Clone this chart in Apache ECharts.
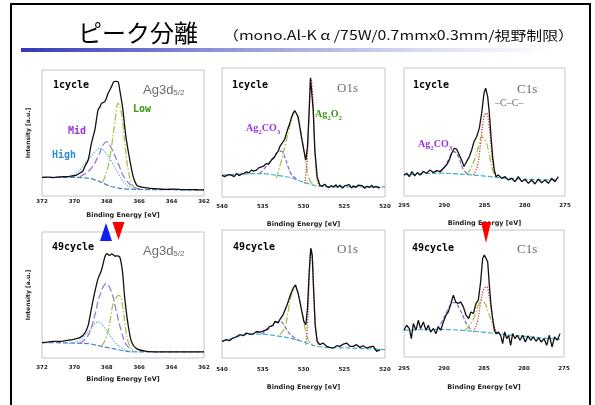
<!DOCTYPE html>
<html>
<head>
<meta charset="utf-8">
<script src="https://cdn.jsdelivr.net/npm/echarts@6/dist/echarts.min.js"></script>
<style>
  html, body { margin: 0; padding: 0; background: #fff; }
  #chart { width: 595px; height: 405px; }
</style>
</head>
<body>
<div id="chart"></div>
<script>
// ---------- Ag3d5/2, 1 cycle : [binding energy eV, intensity a.u.] ----------
const agRaw1 = [[372.0,14.8],[371.6,15.0],[371.3,14.6],[370.9,15.2],[370.5,15.3],[370.29,15.6],[369.9,16.4],[369.67,18.0],[369.46,20.2],[369.36,23.3],[369.15,28.6],[368.95,41.8],[368.74,52.4],[368.54,68.3],[368.43,70.5],[368.33,73.5],[368.12,74.9],[367.92,81.5],[367.71,86.8],[367.57,90.7],[367.45,91.0],[367.30,90.7],[367.20,84.1],[367.03,70.9],[366.82,47.1],[366.58,28.6],[366.37,15.3],[366.16,8.7],[365.96,7.4],[365.55,6.5],[365.34,6.1],[364.8,5.6],[364.31,5.3],[363.8,5.4],[363.28,5.0],[362.7,5.1],[362.25,4.8],[362.0,4.8]];
const agBg1   = [[372.0,14.8],[370.29,14.8],[369.05,14.0],[368.43,11.4],[367.81,7.9],[367.20,6.1],[366.37,5.3],[364.31,5.0],[362.0,4.8]];
const agHigh1 = [[370.49,14.8],[369.88,18.0],[369.26,27.2],[368.74,35.2],[368.43,37.8],[368.12,35.2],[367.71,27.2],[367.30,18.0],[366.89,10.1],[366.37,6.1],[365.96,5.3]];
const agMid1  = [[369.67,15.3],[369.05,20.6],[368.54,31.2],[368.23,40.5],[368.02,43.1],[367.71,37.8],[367.30,25.9],[366.89,14.0],[366.37,7.4],[365.96,5.6]];
const agLow1  = [[368.23,11.4],[367.92,23.3],[367.71,39.2],[367.51,57.7],[367.30,73.5],[367.09,65.6],[366.89,41.8],[366.68,20.6],[366.47,10.1],[366.27,6.1]];

// ---------- Ag3d5/2, 49 cycles ----------
const agRaw49 = [[372.0,12.2],[371.7,12.6],[371.32,13.2],[370.9,13.1],[370.49,14.0],[370.2,14.4],[369.88,15.3],[369.67,16.2],[369.46,18.0],[369.3,21.0],[369.15,25.9],[368.95,39.2],[368.74,52.4],[368.54,63.0],[368.33,69.6],[368.12,80.2],[367.98,82.8],[367.9,81.8],[367.81,81.5],[367.7,82.6],[367.61,82.0],[367.5,80.9],[367.40,81.0],[367.20,80.2],[367.03,68.3],[366.89,47.1],[366.68,25.9],[366.47,12.7],[366.16,7.4],[365.55,5.3],[364.31,4.8],[363.2,4.9],[362.0,4.8]];
const agBg49   = [[372.0,12.2],[369.15,11.4],[368.43,9.5],[367.61,7.4],[366.78,5.3],[365.96,4.8],[362.0,4.8]];
const agHigh49 = [[370.49,11.4],[369.67,14.0],[369.05,22.0],[368.54,28.6],[368.02,22.0],[367.51,12.7],[366.99,7.4],[366.37,4.8]];
const agMid49  = [[369.67,11.4],[369.15,18.0],[368.74,33.9],[368.43,49.7],[368.02,59.0],[367.71,52.4],[367.40,36.5],[367.09,20.6],[366.78,10.1],[366.37,6.1]];
const agLow49  = [[368.33,9.5],[368.06,15.3],[367.81,28.6],[367.61,43.1],[367.40,48.4],[367.24,49.7],[367.03,41.8],[366.87,25.9],[366.68,12.7],[366.47,7.4]];

// ---------- O1s, 1 cycle ----------
const oRaw1 = [[540.0,16.9],[539.7,15.8],[539.47,15.6],[539.2,17.4],[538.85,16.9],[538.5,15.8],[538.24,18.2],[537.9,16.6],[537.62,17.7],[537.3,18.4],[537.01,19.5],[536.7,18.7],[536.39,20.8],[536.1,20.0],[535.78,20.8],[535.5,22.6],[535.16,23.4],[534.85,24.2],[534.55,26.0],[534.3,25.2],[533.93,28.6],[533.6,30.4],[533.32,33.8],[533.1,35.5],[532.91,39.0],[532.7,38.2],[532.50,42.9],[532.3,44.9],[532.09,49.4],[531.89,53.5],[531.68,57.1],[531.48,61.6],[531.27,65.0],[531.07,67.0],[530.98,67.3],[530.66,62.1],[530.33,49.4],[529.96,36.4],[529.71,28.6],[529.51,39.0],[529.30,67.5],[529.14,92.2],[528.98,91.0],[528.81,67.5],[528.61,36.4],[528.32,15.6],[527.99,9.1],[527.7,8.3],[527.4,9.9],[527.17,8.3],[526.9,7.3],[526.6,8.8],[526.35,7.8],[526.0,9.4],[525.8,7.5],[525.53,9.1],[525.2,7.0],[524.95,8.6],[524.71,7.8],[524.4,9.6],[524.1,7.0],[523.89,8.6],[523.6,7.5],[523.3,9.1],[523.07,7.8],[522.8,8.8],[522.5,6.8],[522.25,8.3],[521.9,7.5],[521.6,9.1],[521.43,7.3],[521.1,8.3],[520.8,7.0],[520.61,7.8]];
const oBg1    = [[540.0,16.9],[538.0,17.7],[535.37,18.2],[533.32,16.9],[531.68,15.1],[530.04,11.7],[528.40,8.6],[526.35,7.8],[520.0,7.8]];
const oCarb1  = [[535.37,18.2],[534.55,24.0],[533.73,30.5],[533.1,35.0],[532.7,35.5],[532.3,31.0],[531.89,23.5],[531.48,17.5],[530.86,14.0]];
const oMain1  = [[533.32,14.5],[532.7,28.6],[532.09,44.2],[531.60,57.1],[531.07,66.2],[530.53,57.1],[530.04,39.0],[529.63,23.4],[529.22,13.0],[528.61,8.6]];
const oPerox1 = [[529.84,10.4],[529.55,28.6],[529.30,67.5],[529.10,92.2],[528.89,80.5],[528.69,49.4],[528.48,23.4],[528.20,10.4],[527.79,8.3]];

// ---------- O1s, 49 cycles ----------
const oRaw49 = [[540.0,13.0],[539.47,14.3],[539.1,13.5],[538.65,15.6],[538.3,16.4],[537.83,18.2],[537.4,17.4],[537.01,19.5],[536.6,18.7],[536.19,18.7],[535.8,20.5],[535.37,20.3],[534.96,21.0],[534.55,22.1],[534.14,24.7],[533.73,25.5],[533.52,28.6],[533.1,27.5],[532.91,29.9],[532.50,33.8],[532.01,41.6],[531.60,49.4],[531.27,54.5],[530.98,57.1],[530.66,50.6],[530.33,40.3],[529.96,28.6],[529.71,26.0],[529.51,39.0],[529.30,67.5],[529.10,85.7],[528.93,80.5],[528.77,54.5],[528.57,26.0],[528.32,13.0],[527.99,10.4],[527.6,11.7],[527.17,9.1],[526.8,8.3],[526.35,7.8],[525.9,9.6],[525.53,9.1],[525.1,10.9],[524.71,11.7],[524.3,9.1],[523.89,9.1],[523.5,10.4],[523.07,8.3],[522.7,9.6],[522.25,7.8],[521.85,8.6],[521.43,9.1],[521.02,5.2],[520.61,6.5]];
const oBg49    = [[540.0,13.0],[538.65,15.6],[537.01,18.2],[535.37,18.7],[533.73,17.7],[532.09,16.1],[530.45,13.5],[528.81,9.9],[527.17,8.3],[524.3,7.8],[520.0,6.5]];
const oCarb49  = [[535.16,18.7],[534.14,23.4],[533.32,28.1],[532.83,28.6],[532.30,24.7],[531.76,19.5],[531.07,15.6],[530.45,13.5]];
const oMain49  = [[532.91,18.2],[532.30,23.4],[531.89,36.4],[531.48,49.4],[530.98,54.5],[530.53,46.8],[530.12,33.8],[529.71,20.8],[529.22,11.7],[528.61,10.4]];
const oPerox49 = [[529.71,10.4],[529.51,26.0],[529.30,59.7],[529.10,85.7],[528.89,75.3],[528.69,44.2],[528.48,20.8],[528.20,10.4]];

// ---------- C1s, 1 cycle ----------
const cRaw1 = [[295.00,16.4],[294.67,17.8],[294.34,15.1],[294.01,19.1],[293.67,15.7],[293.34,18.3],[293.01,16.4],[292.60,19.1],[292.18,17.8],[291.77,20.4],[291.36,18.3],[290.94,19.8],[290.53,19.1],[290.11,21.7],[289.70,24.3],[289.37,28.2],[289.08,33.4],[288.75,37.3],[288.46,36.6],[288.13,32.1],[287.84,28.2],[287.55,23.0],[287.22,26.9],[286.88,30.8],[286.59,36.0],[286.30,42.6],[285.97,46.5],[285.64,53.0],[285.35,64.8],[285.06,80.4],[284.86,84.3],[284.61,77.8],[284.40,64.8],[284.19,46.5],[283.99,30.8],[283.78,20.4],[283.57,15.1],[283.28,16.4],[282.87,13.8],[282.45,15.1],[282.04,12.5],[281.63,13.8],[281.21,11.2],[280.80,15.1],[280.38,11.2],[279.97,13.1],[279.55,9.9],[279.14,12.5],[278.73,9.4],[278.31,13.1],[277.90,10.4],[277.48,12.5],[277.07,9.9],[276.66,13.8],[276.24,11.2],[275.83,15.1]];
const cBg1    = [[295.0,16.4],[290.53,17.8],[286.39,16.4],[283.49,14.6],[280.18,13.1],[275.83,12.5]];
const cCarb1  = [[290.53,18.3],[289.91,23.0],[289.29,30.8],[288.79,34.7],[288.25,30.8],[287.71,21.7],[287.13,17.2]];
const cMid1   = [[287.22,16.4],[286.59,23.0],[285.97,33.4],[285.64,41.3],[285.35,46.5],[284.94,43.9],[284.52,36.0],[284.11,23.0],[283.70,15.1]];
const cCC1    = [[286.39,16.4],[285.89,23.0],[285.48,41.3],[285.06,62.1],[284.73,64.8],[284.48,57.4],[284.19,39.2],[283.90,23.0],[283.57,15.1]];

// ---------- C1s, 49 cycles ----------
const cRaw49 = [[295.00,21.1],[294.67,25.0],[294.33,22.4],[294.08,14.5],[293.83,26.3],[293.50,21.1],[293.21,28.9],[292.92,22.4],[292.58,27.6],[292.25,21.1],[291.96,25.0],[291.67,19.7],[291.33,22.4],[291.00,18.4],[290.71,23.7],[290.42,21.1],[290.08,27.6],[289.75,32.9],[289.46,35.5],[289.13,42.1],[288.83,48.7],[288.54,43.4],[288.25,42.1],[287.92,43.4],[287.58,39.5],[287.25,32.9],[286.92,30.3],[286.63,35.5],[286.33,34.2],[286.00,42.1],[285.71,44.7],[285.42,59.2],[285.17,77.6],[284.96,80.3],[284.75,78.9],[284.54,75.0],[284.33,56.6],[284.13,40.8],[283.92,30.3],[283.71,21.1],[283.50,18.4],[283.21,19.7],[282.92,17.1],[282.67,10.5],[282.42,19.7],[282.17,14.5],[281.92,17.1],[281.67,9.2],[281.42,18.4],[281.13,14.5],[280.83,17.1],[280.50,13.2],[280.17,17.1],[279.83,11.8],[279.50,16.6],[279.17,13.2],[278.83,15.8],[278.50,12.4],[278.17,15.0],[277.83,11.8],[277.50,14.5],[277.17,9.2],[276.83,17.1],[276.50,7.9],[276.17,15.8],[275.83,13.2],[275.50,18.4]];
const cBg49   = [[295.0,21.1],[290.50,21.8],[286.33,20.3],[283.42,18.4],[279.17,15.8],[275.50,13.9]];
const cCarb49 = [[290.92,22.4],[290.29,27.6],[289.67,35.5],[289.04,42.1],[288.63,42.9],[288.08,38.2],[287.58,31.6],[287.08,25.0],[286.54,21.1]];
const cMid49  = [[287.38,21.1],[286.75,25.0],[286.13,32.9],[285.71,40.8],[285.29,44.7],[284.88,42.1],[284.46,35.5],[284.04,27.6],[283.50,19.7]];
const cCC49   = [[286.33,19.7],[285.83,27.6],[285.42,43.4],[285.00,53.9],[284.67,55.3],[284.38,48.7],[284.04,35.5],[283.75,25.0],[283.42,19.1]];

// peak-position markers (eV): Ag blue (up), Ag red (down), C1s red (down)
const agMarkers = [368.05, 367.28];
const cMarker = 284.75;

// axis ranges [min, max, interval]
const agRange = [362, 372, 2];
const oRange  = [520, 540, 5];
const cRange  = [275, 295, 5];

const chart = echarts.init(document.getElementById('chart'), null, { renderer: 'canvas', devicePixelRatio: 1 });

const grids = [
  { left: 42,  top: 70,  width: 162, height: 126 },
  { left: 222, top: 68,  width: 163, height: 129 },
  { left: 404, top: 68,  width: 161, height: 128 },
  { left: 42,  top: 232, width: 162, height: 126 },
  { left: 222, top: 230, width: 163, height: 128 },
  { left: 404, top: 230, width: 160, height: 127 }
].map(g => Object.assign({ show: true, borderColor: '#c4c4c4', borderWidth: 1, backgroundColor: '#fff' }, g));

const ranges = [agRange, oRange, cRange, agRange, oRange, cRange];
const labelMargins = [3, 7, 7, 7, 9, 9];
const nameGaps = [16, 24, 24, 18, 26, 27];

const xAxes = ranges.map((r, i) => ({
  type: 'value', gridIndex: i, inverse: true,
  min: r[0], max: r[1], interval: r[2],
  name: 'Binding Energy [eV]', nameLocation: 'middle', nameGap: nameGaps[i],
  nameTextStyle: { fontSize: 6.5, fontWeight: 'bold', color: '#222', fontFamily: 'DejaVu Sans' },
  axisLine: { show: false }, axisTick: { show: false }, splitLine: { show: false },
  axisLabel: { margin: labelMargins[i], fontSize: 5.5, fontWeight: 'bold', color: '#222', fontFamily: 'DejaVu Sans' }
}));

const yAxes = ranges.map((r, i) => ({
  type: 'value', gridIndex: i, min: 0, max: 100,
  name: (i === 0 || i === 3) ? 'Intensity [a.u.]' : '',
  nameLocation: 'middle', nameGap: 11, nameRotate: 90,
  nameTextStyle: { fontSize: 6, fontWeight: 'bold', color: '#222', fontFamily: 'DejaVu Sans' },
  axisLine: { show: false }, axisTick: { show: false }, splitLine: { show: false }, axisLabel: { show: false }
}));

function curve(data, idx, color, type, width, smooth, z) {
  return {
    type: 'line', xAxisIndex: idx, yAxisIndex: idx, data: data,
    symbol: 'none', smooth: smooth, silent: true, z: z || 2,
    lineStyle: { color: color, width: width, type: type }
  };
}

const BLACK = '#111';
const AG_BG = '#4a7fc4', AG_HIGH = '#52b4dc', AG_MID = '#9b7bd2', AG_LOW = '#a9c24e';
const BG = '#3fb0d2', CARB = '#9060cc', MAIN = '#9cc043', CC = '#cc3a3a';
const DASH = [5, 2], LDASH = [7, 3], DOT = [1.2, 1.5], DASHDOT = [7, 2, 1.5, 2];

const series = [
  // Ag3d 1 cycle
  curve(agBg1, 0, AG_BG, DASH, 1.2, 0.3),
  curve(agHigh1, 0, AG_HIGH, DOT, 1.3, 0.4),
  curve(agMid1, 0, AG_MID, LDASH, 1.3, 0.4),
  curve(agLow1, 0, AG_LOW, DASHDOT, 1.3, 0.4),
  curve(agRaw1, 0, BLACK, 'solid', 1.3, 0.25, 3),
  // O1s 1 cycle
  curve(oBg1, 1, BG, DASH, 1.2, 0.3),
  curve(oCarb1, 1, CARB, [4, 2], 1.2, 0.4),
  curve(oMain1, 1, MAIN, DASHDOT, 1.2, 0.4),
  curve(oPerox1, 1, CC, DOT, 1.3, 0.4),
  curve(oRaw1, 1, BLACK, 'solid', 1.3, false, 3),
  // C1s 1 cycle
  curve(cBg1, 2, BG, DASH, 1.2, 0.3),
  curve(cCarb1, 2, CARB, [4, 2], 1.2, 0.4),
  curve(cMid1, 2, MAIN, DASHDOT, 1.2, 0.4),
  curve(cCC1, 2, CC, DOT, 1.3, 0.4),
  curve(cRaw1, 2, BLACK, 'solid', 1.3, false, 3),
  // Ag3d 49 cycles
  curve(agBg49, 3, AG_BG, DASH, 1.2, 0.3),
  curve(agHigh49, 3, AG_HIGH, DOT, 1.3, 0.4),
  curve(agMid49, 3, AG_MID, LDASH, 1.3, 0.4),
  curve(agLow49, 3, AG_LOW, DASHDOT, 1.3, 0.4),
  curve(agRaw49, 3, BLACK, 'solid', 1.3, 0.25, 3),
  // O1s 49 cycles
  curve(oBg49, 4, BG, DASH, 1.2, 0.3),
  curve(oCarb49, 4, CARB, [4, 2], 1.2, 0.4),
  curve(oMain49, 4, MAIN, DASHDOT, 1.2, 0.4),
  curve(oPerox49, 4, CC, DOT, 1.3, 0.4),
  curve(oRaw49, 4, BLACK, 'solid', 1.3, false, 3),
  // C1s 49 cycles
  curve(cBg49, 5, BG, DASH, 1.2, 0.3),
  curve(cCarb49, 5, CARB, [4, 2], 1.2, 0.4),
  curve(cMid49, 5, MAIN, DASHDOT, 1.2, 0.4),
  curve(cCC49, 5, CC, DOT, 1.3, 0.4),
  curve(cRaw49, 5, BLACK, 'solid', 1.3, false, 3)
];

chart.setOption({
  animation: false,
  grid: grids, xAxis: xAxes, yAxis: yAxes, series: series
});

// ---------- annotations ----------
const MONO = '"DejaVu Sans Mono", monospace';
function txt(x, y, text, font, fill, rich) {
  const style = { x: x, y: y, text: text, font: font, fill: fill, verticalAlign: 'middle', align: 'left' };
  if (rich) style.rich = rich;
  return { type: 'text', z: 50, style: style };
}
const subRich = (fs, color, family) => ({
  m: { fontSize: fs, fontFamily: family, fontWeight: 'bold', fill: color, verticalAlign: 'bottom' },
  s: { fontSize: fs * 0.7, fontFamily: family, fontWeight: 'bold', fill: color, verticalAlign: 'bottom', padding: [0, 0, -3, 0] }
});
const agRich = {
  m: { fontSize: 13, fontFamily: '"Liberation Sans"', fill: '#6e6e6e' },
  s: { fontSize: 8, fontFamily: '"Liberation Sans"', fill: '#6e6e6e', padding: [6, 0, 0, 0] }
};

const purpleTxt = '#9933e0', greenTxt = '#3a9a10', blueTxt = '#2d8fd6';

// measurement conditions line, stretched to span the heading rule
const condText = '（mono.Al-K α /75W/0.7mmx0.3mm/視野制限）';
const condFont = '13px "Noto Sans CJK JP"';
const mctx = document.createElement('canvas').getContext('2d');
mctx.font = condFont;
const condScale = 351 / mctx.measureText(condText).width;

const graphics = [
  // slide frame
  { type: 'line', z: 60, shape: { x1: 11, y1: 4, x2: 11, y2: 410 }, style: { stroke: '#000', lineWidth: 2 } },
  { type: 'line', z: 60, shape: { x1: 10, y1: 4, x2: 591, y2: 4 }, style: { stroke: '#000', lineWidth: 2 } },
  { type: 'line', z: 60, shape: { x1: 590, y1: 4, x2: 590, y2: 410 }, style: { stroke: '#000', lineWidth: 2 } },
  // heading
  txt(78, 33, 'ピーク分離', '24px "Noto Sans CJK JP"', '#000'),
  { type: 'text', z: 50, x: 223, y: 35, scaleX: condScale,
    style: { x: 0, y: 0, text: condText, font: condFont, fill: '#111', verticalAlign: 'middle', align: 'left' } },
  { type: 'rect', z: 40, shape: { x: 21, y: 48, width: 530, height: 4 },
    style: { fill: new echarts.graphic.LinearGradient(0, 0, 1, 0, [
      { offset: 0, color: '#3438b8' }, { offset: 0.35, color: '#8a8fd8' },
      { offset: 0.75, color: '#d8daf0' }, { offset: 1, color: '#ffffff' }]) } },

  // panel labels
  txt(53, 85, '1cycle', 'bold 10px ' + MONO, '#000'),
  txt(143, 90, '{m|Ag3d}{s|5/2}', '13px "Liberation Sans"', '#6e6e6e', agRich),
  txt(133, 109, 'Low', 'bold 10px ' + MONO, greenTxt),
  txt(68, 131, 'Mid', 'bold 10px ' + MONO, purpleTxt),
  txt(52, 155, 'High', 'bold 10px ' + MONO, blueTxt),

  txt(232, 85, '1cycle', 'bold 10px ' + MONO, '#000'),
  txt(337, 89, 'O1s', '13px "Liberation Serif"', '#6e6e6e'),
  txt(246, 128, '{m|Ag}{s|2}{m|CO}{s|3}', 'bold 10px "Liberation Sans Narrow"', purpleTxt, subRich(10, purpleTxt, '"Liberation Sans Narrow"')),
  txt(315, 114, '{m|Ag}{s|2}{m|O}{s|2}', 'bold 10px "Liberation Sans Narrow"', greenTxt, subRich(10, greenTxt, '"Liberation Sans Narrow"')),

  txt(413, 85, '1cycle', 'bold 10px ' + MONO, '#000'),
  txt(517, 90, 'C1s', '13px "Liberation Serif"', '#6e6e6e'),
  txt(495, 103, '–C–C–', '10px "Liberation Serif"', '#6e6e6e'),
  txt(418, 144, '{m|Ag}{s|2}{m|CO}{s|3}', 'bold 10px "Liberation Sans Narrow"', purpleTxt, subRich(10, purpleTxt, '"Liberation Sans Narrow"')),

  txt(52, 247, '49cycle', 'bold 10px ' + MONO, '#000'),
  txt(143, 251, '{m|Ag3d}{s|5/2}', '13px "Liberation Sans"', '#6e6e6e', agRich),
  txt(233, 247, '49cycle', 'bold 10px ' + MONO, '#000'),
  txt(337, 250, 'O1s', '13px "Liberation Serif"', '#6e6e6e'),
  txt(412, 248, '49cycle', 'bold 10px ' + MONO, '#000'),
  txt(517, 250, 'C1s', '13px "Liberation Serif"', '#6e6e6e')
];

// peak markers placed through the axes' own scales
const bx = chart.convertToPixel({ xAxisIndex: 3 }, agMarkers[0]);
const rx = chart.convertToPixel({ xAxisIndex: 3 }, agMarkers[1]);
const cx = chart.convertToPixel({ xAxisIndex: 5 }, cMarker);
graphics.push(
  { type: 'polygon', z: 55, shape: { points: [[bx - 6, 241], [bx + 6, 241], [bx, 223]] }, style: { fill: '#1020f0' } },
  { type: 'polygon', z: 55, shape: { points: [[rx - 6, 222], [rx + 6, 222], [rx, 240]] }, style: { fill: '#ff0000' } },
  { type: 'polygon', z: 55, shape: { points: [[cx - 5, 222], [cx + 5, 222], [cx, 243]] }, style: { fill: '#ff0000' } }
);

chart.setOption({ graphic: graphics });
</script>
</body>
</html>
